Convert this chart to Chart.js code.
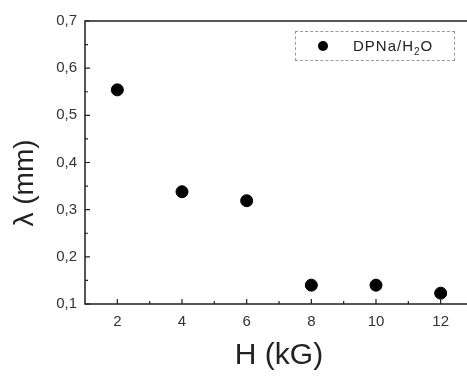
<!DOCTYPE html>
<html>
<head>
<meta charset="utf-8">
<script src="https://cdn.jsdelivr.net/npm/chart.js@4/dist/chart.umd.min.js"></script>
<style>
  html, body { margin: 0; padding: 0; background: #fff; overflow: hidden; }
  .wrap { position: relative; width: 480px; height: 376px; }
  .legend-box {
    position: absolute; left: 295px; top: 31px; width: 160px; height: 30px;
    border: 1px dashed #9a9a9a; box-sizing: border-box;
    font-family: "Liberation Sans", Arial, sans-serif; font-size: 15px; color: #222;
    letter-spacing: 1px;
  }
  .legend-box .dot {
    position: absolute; left: 22px; top: 9px; width: 10px; height: 10px;
    border-radius: 50%; background: #000;
  }
  .legend-box .txt { position: absolute; left: 57px; top: 5px; white-space: nowrap; }
  .legend-box sub { font-size: 10px; }
</style>
</head>
<body>
<div class="wrap">
  <canvas id="chart" width="480" height="376"></canvas>
  <div class="legend-box"><span class="dot"></span><span class="txt">DPNa/H<sub>2</sub>O</span></div>
</div>
<script>
// data
var fieldKG = [2, 4, 6, 8, 10, 12];
var lambdaMM = [0.554, 0.338, 0.319, 0.140, 0.140, 0.123];
var xTicks = [2, 4, 6, 8, 10, 12];
var xMinor = [3, 5, 7, 9, 11];
var yTicks = [0.1, 0.2, 0.3, 0.4, 0.5, 0.6, 0.7];
var yMinor = [0.15, 0.25, 0.35, 0.45, 0.55, 0.65];

var axisColor = "#1e1e2a";
var font = "'Liberation Sans', Arial, sans-serif";

// frame, inward ticks and the y title
var framePlugin = {
  id: "frame",
  afterDraw(chart) {
    var ctx = chart.ctx, a = chart.chartArea;
    var xs = chart.scales.x, ys = chart.scales.y;
    ctx.save();
    ctx.strokeStyle = axisColor;
    ctx.lineWidth = 1.5;
    ctx.strokeRect(a.left, a.top, a.right - a.left, a.bottom - a.top);
    ctx.lineWidth = 1.2;
    ctx.beginPath();
    xTicks.forEach(v => { var p = xs.getPixelForValue(v); ctx.moveTo(p, a.bottom); ctx.lineTo(p, a.bottom - 5); });
    xMinor.forEach(v => { var p = xs.getPixelForValue(v); ctx.moveTo(p, a.bottom); ctx.lineTo(p, a.bottom - 3); });
    yTicks.forEach(v => { var p = ys.getPixelForValue(v); ctx.moveTo(a.left, p); ctx.lineTo(a.left + 5, p); });
    yMinor.forEach(v => { var p = ys.getPixelForValue(v); ctx.moveTo(a.left, p); ctx.lineTo(a.left + 3, p); });
    ctx.stroke();

    // y axis title, a bit below the middle as in the original
    ctx.translate(25, 183);
    ctx.rotate(-Math.PI / 2);
    ctx.fillStyle = "#222";
    ctx.font = "28px " + font;
    ctx.textAlign = "center";
    ctx.textBaseline = "middle";
    ctx.fillText("λ (mm)", 0, 0);
    ctx.restore();
  }
};

new Chart(document.getElementById("chart"), {
  type: "scatter",
  plugins: [framePlugin],
  data: {
    datasets: [{
      label: "DPNa/H2O",
      data: fieldKG.map((x, i) => ({ x: x, y: lambdaMM[i] })),
      backgroundColor: "#000",
      borderColor: "#000",
      pointRadius: 6,
      pointHoverRadius: 6,
    }]
  },
  options: {
    responsive: false,
    animation: false,
    layout: { padding: { top: 21, right: 6, left: 0, bottom: 0 } },
    plugins: { legend: { display: false }, tooltip: { enabled: false } },
    scales: {
      x: {
        type: "linear",
        min: 1, max: 13,
        afterBuildTicks: s => { s.ticks = xTicks.map(v => ({ value: v })); },
        afterFit: s => { s.height = 72; },
        grid: { display: false },
        border: { display: false },
        ticks: { color: "#333", font: { family: font, size: 15 }, padding: 1 },
        title: { display: true, text: "H (kG)", color: "#222", font: { family: font, size: 30 }, padding: { top: 0, bottom: 2 } },
      },
      y: {
        min: 0.1, max: 0.7,
        afterBuildTicks: s => { s.ticks = yTicks.map(v => ({ value: v })); },
        afterFit: s => { s.width = 85; },
        grid: { display: false },
        border: { display: false },
        ticks: {
          color: "#333", font: { family: font, size: 15 }, padding: 0,
          callback: v => v.toFixed(1).replace(".", ",")
        },
      }
    }
  }
});
</script>
</body>
</html>
